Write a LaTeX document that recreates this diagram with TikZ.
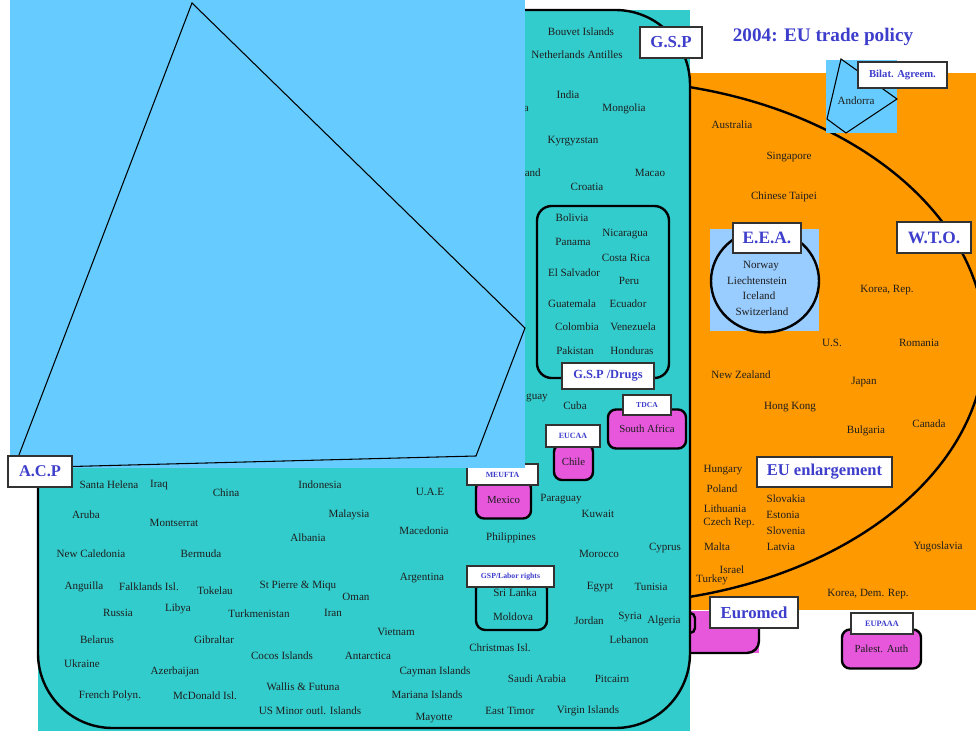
\documentclass[tikz,border=0pt]{standalone}
\usepackage{fontspec}
\setmainfont{Liberation Serif}
\definecolor{tealbg}{RGB}{51,204,204}
\definecolor{lblue}{RGB}{102,204,255}
\definecolor{orng}{RGB}{255,153,0}
\definecolor{mag}{RGB}{230,87,220}
\definecolor{eeab}{RGB}{153,204,255}
\definecolor{lbl}{RGB}{62,62,204}
\definecolor{txt}{RGB}{30,30,30}
\definecolor{boxgray}{RGB}{50,50,50}
\tikzset{
  ctry/.style={font=\fontsize{8.3}{10}\selectfont, text=txt, inner sep=0pt},
  lbox/.style n args={3}{draw=boxgray, line width=0.9pt, fill=white, text=lbl,
    font=\bfseries\fontsize{#3}{#3}\selectfont, minimum width=#1*0.75pt,
    minimum height=#2*0.75pt, inner sep=0pt},
  mbox/.style 2 args={draw=black, line width=1.8pt, fill=mag, rounded corners=6pt,
    text=txt, font=\fontsize{8.1}{10}\selectfont, minimum width=#1*0.75pt,
    minimum height=#2*0.75pt, inner sep=0pt},
  thickline/.style={draw=black, line width=1.8pt},
  thinline/.style={draw=black, line width=0.8pt},
}
\begin{document}
\begin{tikzpicture}[x=0.75pt,y=-0.75pt]
\useasboundingbox (0,0) rectangle (976,731);
% orange WTO area
\fill[orng] (690,73) rectangle (976,610);
\begin{scope}
  \clip (690,73) rectangle (976,610);
  \draw[thickline] (600,342) ellipse [x radius=288.75pt, y radius=196.5pt];
\end{scope}
% Andorra
\fill[lblue] (826,60) rectangle (897,133);
\draw[thinline] (841,59) -- (897,99) -- (846,133) -- (827,119) -- cycle;
\node[ctry] (andorra) at (856,101) {Andorra};
\node[lbox={89}{26}{8}] (bilat) at (902.5,75) {Bilat. Agreem.};
% title
\node[text=lbl, font=\bfseries\fontsize{14.4}{16}\selectfont, inner sep=0pt] (title) at (823,37) {2004: EU trade policy};
% EEA
\fill[eeab] (710,229) rectangle (819,331);
\draw[thickline] (765,281) ellipse [x radius=40.5pt, y radius=38.5pt];
\node[ctry] (norway) at (761,266) {Norway};
\node[ctry] (liech) at (757,281) {Liechtenstein};
\node[ctry] (iceland) at (759,296) {Iceland};
\node[ctry] (switz) at (762,312) {Switzerland};
\node[lbox={68}{30}{13}] (eea) at (767,238) {E.E.A.};
\node[lbox={74}{31}{13}] (wto) at (934,237.5) {W.T.O.};
% orange countries
\node[ctry] (australia) at (732,125) {Australia};
\node[ctry] (singapore) at (789,157) {Singapore};
\node[ctry] (taipei) at (784,197) {Chinese Taipei};
\node[ctry] (korearep) at (887,290) {Korea, Rep.};
\node[ctry] (us) at (832,343) {U.S.};
\node[ctry] (romania) at (919,343) {Romania};
\node[ctry] (nz) at (741,375) {New Zealand};
\node[ctry] (japan) at (864,382) {Japan};
\node[ctry] (hk) at (790,407) {Hong Kong};
\node[ctry] (bulgaria) at (866,431) {Bulgaria};
\node[ctry] (canada) at (929,424) {Canada};
\node[ctry] (hungary) at (723,470) {Hungary};
\node[ctry] (poland) at (722,489) {Poland};
\node[ctry] (lithuania) at (725,509) {Lithuania};
\node[ctry] (czech) at (729,523) {Czech Rep.};
\node[ctry] (malta) at (717,547) {Malta};
\node[ctry] (slovakia) at (786,499) {Slovakia};
\node[ctry] (estonia) at (783,515) {Estonia};
\node[ctry] (slovenia) at (786,531) {Slovenia};
\node[ctry] (latvia) at (781,547) {Latvia};
\node[ctry] (israel) at (732,570) {Israel};
\node[ctry] (turkey) at (712,580) {Turkey};
\node[ctry] (yugo) at (938,547) {Yugoslavia};
\node[ctry] (koreadem) at (868,594) {Korea, Dem. Rep.};
\node[lbox={135}{30}{12.4}] (euenl) at (824.5,472) {EU enlargement};
% Euromed
\fill[mag] (690,611) rectangle (759,653);
\draw[thickline] (759,625) -- (759,641) arc[start angle=0, end angle=90, radius=12] -- (690,653);
\draw[thickline] (690,613) arc[start angle=-90, end angle=0, radius=5] -- (695,628) arc[start angle=0, end angle=90, radius=5];
\node[lbox={88}{31}{12.6}] (euromed) at (754,612.5) {Euromed};
% Palestine
\node[mbox={79}{39}] (palest) at (881.5,649) {Palest. Auth};
\node[lbox={62}{21}{6.2}] (eupaaa) at (882,623.5) {EUPAAA};
% teal GSP area
\fill[tealbg] (38,10) rectangle (690,731);
\draw[thickline, rounded corners=56pt] (38,10) rectangle (690,728);
% GSP drugs
\draw[thickline, rounded corners=11pt] (537,206) rectangle (669,378);
\node[ctry] (bolivia) at (572,218) {Bolivia};
\node[ctry] (nicaragua) at (625,234) {Nicaragua};
\node[ctry] (panama) at (573,242) {Panama};
\node[ctry] (costarica) at (626,258) {Costa Rica};
\node[ctry] (elsalv) at (574,273) {El Salvador};
\node[ctry] (peru) at (629,281) {Peru};
\node[ctry] (guatemala) at (572,304) {Guatemala};
\node[ctry] (ecuador) at (628,304) {Ecuador};
\node[ctry] (colombia) at (577,327) {Colombia};
\node[ctry] (venezuela) at (633,327) {Venezuela};
\node[ctry] (pakistan) at (575,351) {Pakistan};
\node[ctry] (honduras) at (632,351) {Honduras};
\node[lbox={92}{26}{9.3}] (gspdrugs) at (608,376) {G.S.P /Drugs};
% GSP labor
\draw[thickline, rounded corners=7pt] (476,580) rectangle (547,630);
\node[ctry] (srilanka) at (515,593) {Sri Lanka};
\node[ctry] (moldova) at (513,617) {Moldova};
\node[lbox={87}{21}{5.8}] (gsplabor) at (510.5,576.5) {GSP/Labor rights};
% magenta boxes in teal
\node[mbox={78}{39}] (safrica) at (647,429) {South Africa};
\node[lbox={48}{20}{5.7}] (tdca) at (647,405) {TDCA};
\node[mbox={39}{36}] (chile) at (573.5,462) {Chile};
\node[lbox={54}{22}{6}] (eucaa) at (573,436) {EUCAA};
\node[mbox={55}{38}] (mexico) at (503.5,499.5) {Mexico};
\node[lbox={71}{21}{5.9}] (meufta) at (502.5,474.5) {MEUFTA};
% teal countries, upper right
\node[ctry] (bouvet) at (581,32) {Bouvet Islands};
\node[ctry] (netherl) at (577,55) {Netherlands Antilles};
\node[ctry] (india) at (568,95) {India};
\node[ctry, anchor=east] (parta) at (529,109) {a};
\node[ctry] (mongolia) at (624,109) {Mongolia};
\node[ctry] (kyrgyz) at (573,141) {Kyrgyzstan};
\node[ctry, anchor=east] (partand) at (541,173) {and};
\node[ctry] (macao) at (650,173) {Macao};
\node[ctry] (croatia) at (587,187) {Croatia};
\node[ctry, anchor=east] (partguay) at (548,398) {guay};
\node[ctry] (cuba) at (575,406) {Cuba};
% teal countries, lower
\node[ctry] (santahel) at (109,485) {Santa Helena};
\node[ctry] (iraq) at (159,485) {Iraq};
\node[ctry] (china) at (226,493) {China};
\node[ctry] (aruba) at (86,515) {Aruba};
\node[ctry] (montserrat) at (174,523) {Montserrat};
\node[ctry] (newcal) at (91,554) {New Caledonia};
\node[ctry] (bermuda) at (201,554) {Bermuda};
\node[ctry] (anguilla) at (84,587) {Anguilla};
\node[ctry] (falklands) at (149,587) {Falklands Isl.};
\node[ctry] (tokelau) at (215,591) {Tokelau};
\node[ctry] (russia) at (118,613) {Russia};
\node[ctry] (libya) at (178,609) {Libya};
\node[ctry] (belarus) at (97,640) {Belarus};
\node[ctry] (gibraltar) at (214,640) {Gibraltar};
\node[ctry] (ukraine) at (82,664) {Ukraine};
\node[ctry] (azerb) at (175,672) {Azerbaijan};
\node[ctry] (frpolyn) at (110,696) {French Polyn.};
\node[ctry] (mcdonald) at (205,696) {McDonald Isl.};
\node[ctry] (indonesia) at (320,485) {Indonesia};
\node[ctry] (uae) at (430,492) {U.A.E};
\node[ctry] (malaysia) at (349,515) {Malaysia};
\node[ctry] (macedonia) at (424,531) {Macedonia};
\node[ctry] (albania) at (308,538) {Albania};
\node[ctry] (argentina) at (422,578) {Argentina};
\node[ctry] (stpierre) at (298,586) {St Pierre \& Miqu};
\node[ctry] (oman) at (356,597) {Oman};
\node[ctry] (turkmen) at (259,614) {Turkmenistan};
\node[ctry] (iran) at (333,613) {Iran};
\node[ctry] (vietnam) at (396,632) {Vietnam};
\node[ctry] (cocos) at (282,656) {Cocos Islands};
\node[ctry] (antarctica) at (368,656) {Antarctica};
\node[ctry] (cayman) at (435,672) {Cayman Islands};
\node[ctry] (wallis) at (303,687) {Wallis \& Futuna};
\node[ctry] (mariana) at (427,695) {Mariana Islands};
\node[ctry] (usminor) at (310,711) {US Minor outl. Islands};
\node[ctry] (mayotte) at (434,718) {Mayotte};
\node[ctry] (paraguay) at (561,499) {Paraguay};
\node[ctry] (kuwait) at (598,514) {Kuwait};
\node[ctry] (philipp) at (511,538) {Philippines};
\node[ctry] (morocco) at (599,554) {Morocco};
\node[ctry] (cyprus) at (665,548) {Cyprus};
\node[ctry] (egypt) at (600,587) {Egypt};
\node[ctry] (tunisia) at (651,587) {Tunisia};
\node[ctry] (jordan) at (589,621) {Jordan};
\node[ctry] (syria) at (630,617) {Syria};
\node[ctry] (algeria) at (664,621) {Algeria};
\node[ctry] (lebanon) at (629,640) {Lebanon};
\node[ctry] (christmas) at (500,648) {Christmas Isl.};
\node[ctry] (saudi) at (537,679) {Saudi Arabia};
\node[ctry] (pitcairn) at (612,679) {Pitcairn};
\node[ctry] (easttimor) at (510,711) {East Timor};
\node[ctry] (virgin) at (588,711) {Virgin Islands};
% light blue ACP area
\fill[lblue] (10,0) rectangle (525,468);
\draw[thinline] (192,3) -- (525,328) -- (476,456) -- (14,468) -- cycle;
\node[lbox={64}{31}{12.3}] (acp) at (40,471.5) {A.C.P};
\node[lbox={62}{31}{12.6}] (gsp) at (671,42.5) {G.S.P};
\end{tikzpicture}
\end{document}
